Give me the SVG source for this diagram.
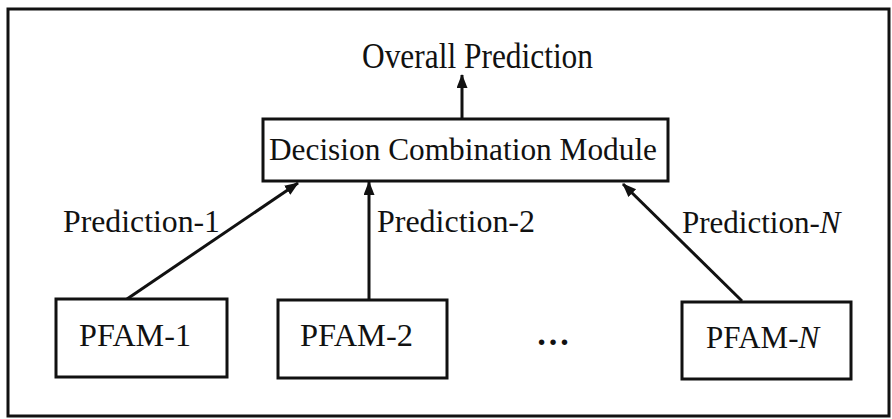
<svg xmlns="http://www.w3.org/2000/svg" width="892" height="419" viewBox="0 0 892 419">
<style>
  .frame { fill: none; stroke: #111; stroke-width: 3; }
  .box { fill: #fff; stroke: #111; stroke-width: 3; }
  .edge { fill: none; stroke: #111; stroke-width: 3; }
  .t { font-family: "Liberation Serif", "Times New Roman", serif; fill: #111; }
</style>
<defs>
  <marker id="arr" markerUnits="userSpaceOnUse" markerWidth="14" markerHeight="12" refX="13" refY="5.5" orient="auto">
    <path d="M0,0 L14,5.5 L0,11 Z" fill="#111"/>
  </marker>
</defs>
<rect width="892" height="419" fill="#fff"/>
<rect class="frame" x="8" y="9" width="881" height="407"/>

<g id="connectors">
  <line class="edge" x1="462" y1="119" x2="462" y2="75" marker-end="url(#arr)"/>
  <line class="edge" x1="127" y1="299" x2="298" y2="183" marker-end="url(#arr)"/>
  <line class="edge" x1="369" y1="300" x2="369" y2="182" marker-end="url(#arr)"/>
  <line class="edge" x1="742" y1="301" x2="623" y2="184" marker-end="url(#arr)"/>
  <text class="t" x="63" y="232" font-size="31" textLength="157" lengthAdjust="spacingAndGlyphs">Prediction-1</text>
  <text class="t" x="377" y="232" font-size="31" textLength="158" lengthAdjust="spacingAndGlyphs">Prediction-2</text>
  <text class="t" x="682" y="233" font-size="31">Prediction-<tspan font-style="italic">N</tspan></text>
</g>

<g id="overall">
  <text class="t" x="362" y="68" font-size="36" textLength="231" lengthAdjust="spacingAndGlyphs">Overall Prediction</text>
</g>

<g id="dcm">
  <rect class="box" x="263" y="119" width="405" height="62"/>
  <text class="t" x="269" y="160" font-size="31" textLength="388" lengthAdjust="spacingAndGlyphs">Decision Combination Module</text>
</g>

<g id="pfam1">
  <rect class="box" x="56" y="299" width="171" height="78"/>
  <text class="t" x="79" y="346" font-size="32" textLength="112" lengthAdjust="spacingAndGlyphs">PFAM-1</text>
</g>

<g id="pfam2">
  <rect class="box" x="278" y="300" width="169" height="78"/>
  <text class="t" x="300" y="346" font-size="32" textLength="113" lengthAdjust="spacingAndGlyphs">PFAM-2</text>
</g>

<g id="dots">
  <text class="t" x="553" y="345" font-size="34" font-weight="bold" text-anchor="middle">…</text>
</g>

<g id="pfamN">
  <rect class="box" x="682" y="302" width="169" height="77"/>
  <text class="t" x="706" y="348" font-size="31">PFAM-<tspan font-style="italic">N</tspan></text>
</g>
</svg>
